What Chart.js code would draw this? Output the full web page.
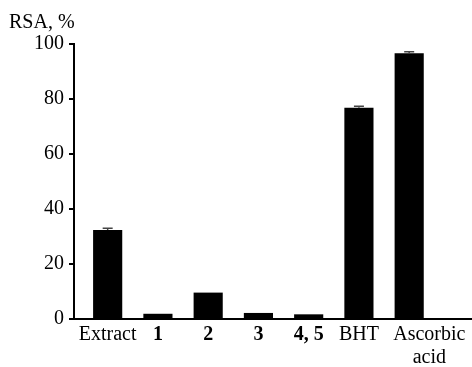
<!DOCTYPE html>
<html>
<head>
<meta charset="utf-8">
<script src="https://cdn.jsdelivr.net/npm/chart.js@4/dist/chart.umd.min.js"></script>
<style>
    html, body { margin: 0; padding: 0; background: #fff; }
    #wrap { width: 472px; height: 367px; }
</style>
</head>
<body>
<div id="wrap"><canvas id="rsaChart"></canvas></div>
<script>
const categories = ['Extract', '1', '2', '3', '4, 5', 'BHT', ['Ascorbic', 'acid']];
const boldLabels = [false, true, true, true, true, false, false];
// where each category label sits on the x axis (the last one is set off to the right in the original)
const labelPositions = [1, 2, 3, 4, 5, 6, 7.4];
const rsaValues = [32.4, 1.9, 9.6, 2.2, 1.7, 76.8, 96.6];
const rsaErrors = [0.6, 0, 0, 0, 0, 0.6, 0.6];
const yTicks = [0, 20, 40, 60, 80, 100];

const fontFamily = '"Liberation Serif", "Times New Roman", serif';

// small error caps on top of the bars
const errorBars = {
    id: 'errorBars',
    afterDatasetsDraw(chart) {
        const ctx = chart.ctx;
        const meta = chart.getDatasetMeta(0);
        const yScale = chart.scales.y;
        ctx.save();
        ctx.strokeStyle = '#444';
        ctx.lineWidth = 1.5;
        meta.data.forEach((bar, i) => {
            if (!rsaErrors[i]) return;
            const top = yScale.getPixelForValue(rsaValues[i] + rsaErrors[i]);
            ctx.beginPath();
            ctx.moveTo(bar.x, bar.y);
            ctx.lineTo(bar.x, top);
            ctx.moveTo(bar.x - 5, top);
            ctx.lineTo(bar.x + 5, top);
            ctx.stroke();
        });
        ctx.restore();
    }
};

new Chart(document.getElementById('rsaChart'), {
    type: 'bar',
    data: {
        datasets: [{
            data: rsaValues.map((v, i) => ({ x: i + 1, y: v })),
            backgroundColor: '#000',
            borderWidth: 0,
            barPercentage: 0.58,
            categoryPercentage: 1
        }]
    },
    options: {
        responsive: true,
        maintainAspectRatio: false,
        animation: false,
        layout: { padding: { left: 9, right: 0, top: 0, bottom: 0 } },
        plugins: {
            legend: { display: false },
            tooltip: { enabled: false },
            title: {
                display: true,
                text: 'RSA, %',
                align: 'start',
                color: '#000',
                font: { family: fontFamily, size: 20, weight: 'normal' },
                padding: { top: 11, bottom: 9 }
            }
        },
        scales: {
            x: {
                type: 'linear',
                offset: false,
                min: 0.33,
                max: 8.25,
                grid: { display: false, drawTicks: false, offset: false },
                border: { display: true, color: '#000', width: 2 },
                afterBuildTicks: (scale) => {
                    scale.ticks = labelPositions.map(p => ({ value: p }));
                },
                afterFit: (scale) => { scale.height = 48; },
                ticks: {
                    autoSkip: false,
                    maxRotation: 0,
                    padding: 4,
                    color: '#000',
                    font: (c) => ({
                        family: fontFamily,
                        size: 20,
                        lineHeight: 1.15,
                        weight: boldLabels[c.index] ? 'bold' : 'normal'
                    }),
                    callback: (v, i) => categories[i]
                }
            },
            y: {
                min: 0,
                max: 100,
                grid: {
                    display: true,
                    drawOnChartArea: false,
                    drawTicks: true,
                    tickLength: 5,
                    color: '#000',
                    lineWidth: 2
                },
                border: { display: true, color: '#000', width: 2 },
                afterBuildTicks: (scale) => {
                    scale.ticks = yTicks.map(v => ({ value: v }));
                },
                afterFit: (scale) => { scale.width = 65; },
                ticks: {
                    padding: 5,
                    color: '#000',
                    font: { family: fontFamily, size: 20 }
                }
            }
        }
    },
    plugins: [errorBars]
});
</script>
</body>
</html>
